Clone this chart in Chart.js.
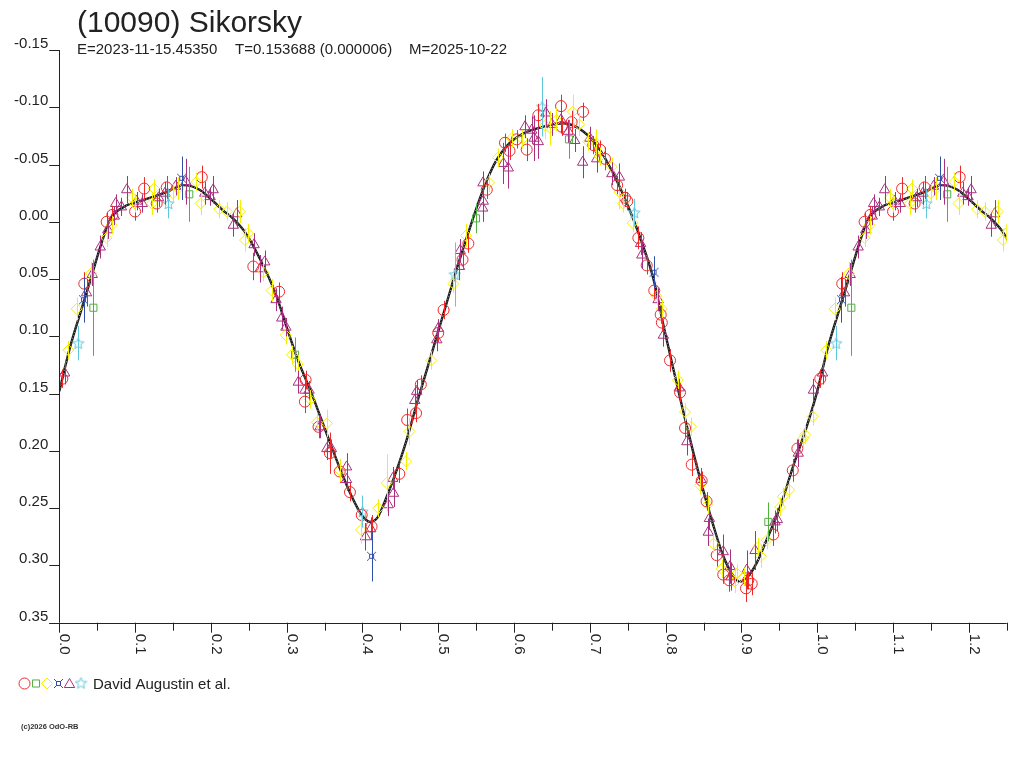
<!DOCTYPE html>
<html>
<head>
<meta charset="utf-8">
<title>(10090) Sikorsky</title>
<script src="https://cdn.jsdelivr.net/npm/chart.js@4.4.1/dist/chart.umd.min.js"></script>
<style>
  html, body { margin: 0; padding: 0; background: #fff; }
  #wrap { width: 1024px; height: 768px; }
</style>
</head>
<body>
<div id="wrap"><canvas id="lightCurve" width="1024" height="768"></canvas></div>
<script>
// observations: [phase, magnitude, error]
const redPoints = [
  [0.004, 0.137, 0.008], [0.033, 0.054, 0.010], [0.0625, 0.000, 0.008], [0.070, -0.006, 0.008],
  [0.100, -0.009, 0.008], [0.112, -0.029, 0.010], [0.1285, -0.016, 0.008], [0.1417, -0.030, 0.010],
  [0.188, -0.039, 0.010], [0.256, 0.039, 0.012], [0.290, 0.061, 0.008], [0.325, 0.138, 0.008],
  [0.324, 0.157, 0.010], [0.342, 0.179, 0.010], [0.357, 0.202, 0.018], [0.370, 0.218, 0.010],
  [0.3835, 0.236, 0.008], [0.399, 0.256, 0.008], [0.412, 0.266, 0.010], [0.4486, 0.220, 0.008],
  [0.459, 0.173, 0.010], [0.4707, 0.167, 0.008], [0.477, 0.142, 0.008], [0.500, 0.097, 0.008],
  [0.507, 0.077, 0.008], [0.532, 0.033, 0.008], [0.5397, 0.019, 0.008], [0.564, -0.028, 0.008],
  [0.588, -0.069, 0.008], [0.594, -0.062, 0.008], [0.6035, -0.072, 0.008], [0.6167, -0.063, 0.010],
  [0.632, -0.093, 0.010], [0.662, -0.101, 0.010], [0.663, -0.083, 0.008], [0.676, -0.087, 0.010],
  [0.691, -0.096, 0.008], [0.7046, -0.067, 0.008], [0.7134, -0.063, 0.008], [0.720, -0.055, 0.010],
  [0.736, -0.032, 0.008], [0.7464, -0.021, 0.008], [0.7494, -0.018, 0.008], [0.764, 0.014, 0.010],
  [0.775, 0.038, 0.008], [0.785, 0.060, 0.008], [0.7935, 0.081, 0.008], [0.795, 0.088, 0.008],
  [0.8058, 0.121, 0.010], [0.819, 0.149, 0.008], [0.8256, 0.180, 0.008], [0.8344, 0.212, 0.010],
  [0.8476, 0.226, 0.008], [0.854, 0.244, 0.008], [0.8674, 0.291, 0.010], [0.876, 0.308, 0.008],
  [0.884, 0.313, 0.010], [0.906, 0.320, 0.012], [0.9136, 0.316, 0.010], [0.909, 0.313, 0.008],
  [0.942, 0.273, 0.010], [0.9677, 0.217, 0.010], [0.9738, 0.198, 0.008]
];

const greenPoints = [
  [0.045, 0.075, 0.042], [0.1715, -0.024, 0.024], [0.311, 0.116, 0.015],
  [0.5498, -0.003, 0.013], [0.6725, -0.072, 0.017], [0.9355, 0.262, 0.017]
];

const yellowPoints = [
  [0.012, 0.112, 0.008], [0.023, 0.076, 0.010], [0.042, 0.045, 0.010], [0.0625, 0.014, 0.008],
  [0.069, 0.003, 0.008], [0.096, -0.021, 0.008], [0.100, -0.016, 0.008], [0.122, -0.016, 0.010],
  [0.125, -0.029, 0.008], [0.150, -0.025, 0.008], [0.157, -0.029, 0.010], [0.181, -0.035, 0.008],
  [0.1865, -0.016, 0.010], [0.211, -0.011, 0.008], [0.221, -0.009, 0.008], [0.238, -0.009, 0.010],
  [0.245, 0.016, 0.010], [0.249, 0.010, 0.008], [0.269, 0.044, 0.008], [0.280, 0.060, 0.010],
  [0.2987, 0.099, 0.008], [0.307, 0.116, 0.008], [0.3146, 0.124, 0.008], [0.331, 0.155, 0.008],
  [0.340, 0.175, 0.008], [0.353, 0.176, 0.012], [0.370, 0.217, 0.010], [0.398, 0.269, 0.012],
  [0.421, 0.250, 0.008], [0.432, 0.228, 0.025], [0.4575, 0.209, 0.008], [0.462, 0.183, 0.012],
  [0.491, 0.121, 0.008], [0.520, 0.054, 0.008], [0.5366, 0.012, 0.010], [0.567, -0.034, 0.008],
  [0.579, -0.056, 0.008], [0.597, -0.073, 0.008], [0.611, -0.072, 0.008], [0.641, -0.084, 0.012],
  [0.6475, -0.082, 0.015], [0.656, -0.089, 0.010], [0.6774, -0.096, 0.015], [0.686, -0.085, 0.010],
  [0.698, -0.070, 0.008], [0.708, -0.069, 0.012], [0.7134, -0.057, 0.008], [0.729, -0.048, 0.008],
  [0.739, -0.026, 0.015], [0.744, -0.016, 0.008], [0.7566, 0.001, 0.008], [0.788, 0.065, 0.008],
  [0.795, 0.076, 0.008], [0.816, 0.138, 0.008], [0.8256, 0.166, 0.008], [0.8335, 0.179, 0.008],
  [0.8454, 0.230, 0.008], [0.8555, 0.247, 0.008], [0.863, 0.281, 0.008], [0.874, 0.303, 0.008],
  [0.8916, 0.314, 0.010], [0.894, 0.307, 0.008], [0.903, 0.310, 0.008], [0.922, 0.284, 0.008],
  [0.9255, 0.292, 0.010], [0.9334, 0.278, 0.008], [0.951, 0.249, 0.008], [0.9545, 0.240, 0.008],
  [0.963, 0.234, 0.008], [0.9817, 0.189, 0.008], [0.984, 0.186, 0.008], [0.994, 0.170, 0.008]
];

const bluePoints = [
  [0.032, 0.068, 0.020], [0.1615, -0.038, 0.019], [0.412, 0.292, 0.022], [0.7847, 0.044, 0.014]
];

const purplePoints = [
  [0.007, 0.132, 0.010], [0.036, 0.062, 0.012], [0.0435, 0.046, 0.010], [0.054, 0.022, 0.010],
  [0.064, 0.007, 0.008], [0.0726, -0.005, 0.008], [0.0744, -0.016, 0.008], [0.082, -0.013, 0.008],
  [0.089, -0.028, 0.012], [0.102, -0.018, 0.008], [0.1095, -0.016, 0.008], [0.131, -0.021, 0.008],
  [0.1395, -0.025, 0.010], [0.1535, -0.031, 0.008], [0.167, -0.035, 0.020], [0.192, -0.025, 0.010],
  [0.199, -0.022, 0.008], [0.203, -0.028, 0.012], [0.2296, 0.003, 0.010], [0.234, -0.007, 0.012],
  [0.257, 0.020, 0.010], [0.265, 0.041, 0.012], [0.271, 0.035, 0.010], [0.286, 0.068, 0.010],
  [0.2935, 0.084, 0.010], [0.299, 0.092, 0.008], [0.3154, 0.140, 0.010], [0.324, 0.147, 0.010],
  [0.3295, 0.147, 0.008], [0.344, 0.179, 0.010], [0.353, 0.198, 0.010], [0.359, 0.198, 0.008],
  [0.379, 0.214, 0.012], [0.379, 0.225, 0.010], [0.404, 0.275, 0.012], [0.411, 0.268, 0.010],
  [0.434, 0.247, 0.010], [0.440, 0.224, 0.010], [0.441, 0.237, 0.012], [0.469, 0.156, 0.012],
  [0.4716, 0.148, 0.010], [0.498, 0.103, 0.010], [0.500, 0.093, 0.008], [0.528, 0.039, 0.012],
  [0.529, 0.025, 0.010], [0.5586, -0.012, 0.012], [0.5594, -0.018, 0.010], [0.559, -0.034, 0.010],
  [0.586, -0.051, 0.018], [0.5924, -0.047, 0.018], [0.6145, -0.083, 0.010], [0.6233, -0.080, 0.012],
  [0.6264, -0.073, 0.020], [0.632, -0.070, 0.015], [0.642, -0.095, 0.012], [0.650, -0.085, 0.010],
  [0.662, -0.089, 0.012], [0.6716, -0.079, 0.010], [0.680, -0.071, 0.010], [0.6905, -0.052, 0.014],
  [0.700, -0.073, 0.010], [0.709, -0.055, 0.012], [0.729, -0.042, 0.010], [0.739, -0.039, 0.012],
  [0.767, 0.019, 0.010], [0.7685, 0.029, 0.012], [0.790, 0.068, 0.010], [0.797, 0.099, 0.010],
  [0.818, 0.145, 0.008], [0.828, 0.192, 0.012], [0.8467, 0.225, 0.010], [0.8577, 0.259, 0.010],
  [0.8563, 0.271, 0.012], [0.876, 0.288, 0.015], [0.885, 0.301, 0.015], [0.886, 0.310, 0.012],
  [0.907, 0.304, 0.017], [0.918, 0.287, 0.017], [0.9443, 0.262, 0.010], [0.9474, 0.260, 0.010],
  [0.975, 0.202, 0.012], [0.995, 0.147, 0.010]
];

const cyanPoints = [
  [0.025, 0.106, 0.015], [0.144, -0.016, 0.013], [0.400, 0.253, 0.014],
  [0.522, 0.046, 0.028], [0.637, -0.1005, 0.026], [0.7587, -0.008, 0.012]
];

// fitted lightcurve, one full rotation
const fitPhase = [0.000, 0.014, 0.028, 0.041, 0.054, 0.067, 0.085, 0.111, 0.138, 0.164, 0.185, 0.203,
  0.216, 0.229, 0.245, 0.263, 0.285, 0.300, 0.315, 0.333, 0.346, 0.359, 0.373, 0.386, 0.399, 0.410,
  0.420, 0.432, 0.445, 0.458, 0.472, 0.485, 0.498, 0.511, 0.524, 0.538, 0.551, 0.564, 0.577, 0.590,
  0.612, 0.639, 0.665, 0.691, 0.713, 0.731, 0.749, 0.766, 0.784, 0.797, 0.810, 0.823, 0.836, 0.849,
  0.862, 0.875, 0.888, 0.897, 0.907, 0.920, 0.933, 0.951, 0.968, 0.986, 1.000];
const fitMag = [0.148, 0.110, 0.079, 0.051, 0.022, -0.002, -0.013, -0.019, -0.025, -0.032, -0.028, -0.018,
  -0.010, -0.003, 0.009, 0.030, 0.062, 0.092, 0.121, 0.150, 0.173, 0.196, 0.220, 0.240, 0.256, 0.262,
  0.258, 0.240, 0.217, 0.191, 0.158, 0.129, 0.100, 0.071, 0.042, 0.013, -0.013, -0.036, -0.054, -0.066,
  -0.077, -0.083, -0.086, -0.079, -0.063, -0.042, -0.016, 0.013, 0.050, 0.090, 0.128, 0.165, 0.200, 0.233,
  0.263, 0.290, 0.308, 0.314, 0.311, 0.298, 0.278, 0.249, 0.214, 0.179, 0.148];

const xMajorTicks = [0.0, 0.1, 0.2, 0.3, 0.4, 0.5, 0.6, 0.7, 0.8, 0.9, 1.0, 1.1, 1.2];
const xMajorLabels = ["0.0", "0.1", "0.2", "0.3", "0.4", "0.5", "0.6", "0.7", "0.8", "0.9", "1.0", "1.1", "1.2"];
const xMinorTicks = [0.05, 0.15, 0.25, 0.35, 0.45, 0.55, 0.65, 0.75, 0.85, 0.95, 1.05, 1.15, 1.25];
const yTicks = [-0.15, -0.10, -0.05, 0.00, 0.05, 0.10, 0.15, 0.20, 0.25, 0.30, 0.35];
const yTickLabels = ["-0.15", "-0.10", "-0.05", "0.00", "0.05", "0.10", "0.15", "0.20", "0.25", "0.30", "0.35"];

const titleText = "(10090) Sikorsky";
const subtitleParts = ["E=2023-11-15.45350", "T=0.153688 (0.000006)", "M=2025-10-22"];
const legendText = "David Augustin et al.";
const copyrightText = "(c)2026 OdO-RB";

const FONT = '"Liberation Sans", Arial, sans-serif';
const RED = "#f02828", GREEN = "#50b040", YELLOW = "#f5f000", BLUE = "#3050a8", PURPLE = "#a8307f", CYAN = "#60c8dc";

// phases 0..0.25 are shown again after 1.0
function phaseData(rows) {
  const out = [];
  rows.forEach(([p, m, e]) => {
    out.push({ x: p, y: m, e: e });
    if (p <= 0.25) out.push({ x: p + 1, y: m, e: e });
  });
  return out;
}

function fitData() {
  const out = fitPhase.map((p, i) => ({ x: p, y: fitMag[i] }));
  fitPhase.forEach((p, i) => { if (p > 0 && p <= 0.27) out.push({ x: p + 1, y: fitMag[i] }); });
  return out;
}

function makeStar(color) {
  const c = document.createElement("canvas");
  c.width = 13; c.height = 13;
  const g = c.getContext("2d");
  g.strokeStyle = color; g.lineWidth = 1;
  g.beginPath();
  for (let k = 0; k < 10; k++) {
    const r = k % 2 ? 2.6 : 6;
    const a = -Math.PI / 2 + k * Math.PI / 5;
    const px = 6.5 + r * Math.cos(a), py = 7 + r * Math.sin(a);
    if (k) g.lineTo(px, py); else g.moveTo(px, py);
  }
  g.closePath();
  g.stroke();
  return c;
}

function makeCurrency(color) {
  const c = document.createElement("canvas");
  c.width = 11; c.height = 11;
  const g = c.getContext("2d");
  g.strokeStyle = color; g.lineWidth = 1;
  g.strokeRect(3.5, 3.5, 4, 4);
  g.beginPath();
  g.moveTo(1, 1); g.lineTo(3.5, 3.5);
  g.moveTo(10, 1); g.lineTo(7.5, 3.5);
  g.moveTo(1, 10); g.lineTo(3.5, 7.5);
  g.moveTo(10, 10); g.lineTo(7.5, 7.5);
  g.stroke();
  return c;
}

const starImg = makeStar(CYAN);
const currencyImg = makeCurrency(BLUE);

function obsSet(label, rows, color, style, radius) {
  return {
    label: label,
    data: phaseData(rows),
    borderColor: color,
    backgroundColor: "transparent",
    pointStyle: style,
    pointRadius: radius,
    pointBorderWidth: 1,
    showLine: false,
    order: 1,
    errorBars: true
  };
}

const errorBars = {
  id: "errorBars",
  afterDatasetsDraw(chart) {
    const { ctx, chartArea, scales: { x, y } } = chart;
    ctx.save();
    ctx.beginPath();
    ctx.rect(chartArea.left, chartArea.top - 10, chartArea.right - chartArea.left, chartArea.bottom - chartArea.top + 10);
    ctx.clip();
    ctx.lineWidth = 1;
    chart.data.datasets.forEach(ds => {
      if (!ds.errorBars) return;
      ctx.strokeStyle = ds.borderColor;
      ctx.beginPath();
      ds.data.forEach(d => {
        const px = Math.round(x.getPixelForValue(d.x)) + 0.5;
        ctx.moveTo(px, y.getPixelForValue(d.y - d.e));
        ctx.lineTo(px, y.getPixelForValue(d.y + d.e));
      });
      ctx.stroke();
    });
    ctx.restore();
  }
};

function legendMarker(ctx, style, color, cx, cy, r) {
  ctx.strokeStyle = color;
  ctx.fillStyle = "rgba(0,0,0,0)";
  ctx.lineWidth = 1;
  Chart.helpers.drawPoint(ctx, { pointStyle: style, radius: r, rotation: 0, borderWidth: 1 }, cx, cy);
}

const frame = {
  id: "frame",
  afterDraw(chart) {
    const { ctx, scales: { x, y } } = chart;
    const left = x.getPixelForValue(0), right = x.getPixelForValue(1.25);
    const top = y.getPixelForValue(-0.15), bottom = y.getPixelForValue(0.35);
    ctx.save();
    ctx.strokeStyle = "#222";
    ctx.lineWidth = 1;
    ctx.beginPath();
    ctx.moveTo(Math.round(left) + 0.5, top);
    ctx.lineTo(Math.round(left) + 0.5, bottom);
    ctx.moveTo(left - 10, Math.round(bottom) + 0.5);
    ctx.lineTo(right, Math.round(bottom) + 0.5);
    yTicks.forEach(v => {
      const py = Math.round(y.getPixelForValue(v)) + 0.5;
      ctx.moveTo(left - 10, py);
      ctx.lineTo(left, py);
    });
    xMajorTicks.forEach(v => {
      const px = Math.round(x.getPixelForValue(v)) + 0.5;
      ctx.moveTo(px, bottom);
      ctx.lineTo(px, bottom + 10);
    });
    xMinorTicks.forEach(v => {
      const px = Math.round(x.getPixelForValue(v)) + 0.5;
      ctx.moveTo(px, bottom);
      ctx.lineTo(px, bottom + 8);
    });
    ctx.stroke();

    ctx.fillStyle = "#222";
    ctx.font = "15px " + FONT;
    ctx.textAlign = "right";
    ctx.textBaseline = "alphabetic";
    yTicks.forEach((v, i) => {
      ctx.fillText(yTickLabels[i], left - 11, y.getPixelForValue(v) - 2);
    });
    ctx.textAlign = "left";
    xMajorTicks.forEach((v, i) => {
      ctx.save();
      ctx.translate(x.getPixelForValue(v) + 1, bottom + 11);
      ctx.rotate(Math.PI / 2);
      ctx.fillText(xMajorLabels[i], 0, 0);
      ctx.restore();
    });

    // header
    ctx.font = "30px " + FONT;
    ctx.fillText(titleText, 77, 32);
    ctx.font = "15px " + FONT;
    ctx.fillText(subtitleParts[0], 77, 54);
    ctx.fillText(subtitleParts[1], 235, 54);
    ctx.fillText(subtitleParts[2], 409, 54);

    // legend
    const ly = 683.5;
    legendMarker(ctx, "circle", RED, 24.5, ly, 5.5);
    legendMarker(ctx, "rect", GREEN, 36, ly, 5);
    legendMarker(ctx, "rectRot", YELLOW, 47, ly, 5.5);
    ctx.drawImage(currencyImg, 58.5 - 5.5, ly - 5.5);
    legendMarker(ctx, "triangle", PURPLE, 69.5, ly + 1, 6);
    ctx.drawImage(starImg, 81 - 6.5, ly - 7);
    ctx.fillStyle = "#222";
    ctx.font = "15px " + FONT;
    ctx.fillText(legendText, 93, 689);

    ctx.font = "bold 7.5px " + FONT;
    ctx.fillStyle = "#333";
    ctx.fillText(copyrightText, 21, 729);
    ctx.restore();
  }
};

new Chart(document.getElementById("lightCurve").getContext("2d"), {
  type: "scatter",
  data: {
    datasets: [
      {
        label: "fit",
        data: fitData(),
        showLine: true,
        borderColor: "#1a1a1a",
        borderWidth: 2.4,
        pointRadius: 0,
        cubicInterpolationMode: "monotone",
        order: 3
      },
      {
        label: "fit-dots",
        data: fitData(),
        showLine: true,
        borderColor: "rgba(255,255,255,0.7)",
        borderWidth: 0.8,
        borderDash: [1, 2],
        pointRadius: 0,
        cubicInterpolationMode: "monotone",
        order: 2
      },
      obsSet("red", redPoints, RED, "circle", 5.5),
      obsSet("green", greenPoints, GREEN, "rect", 5),
      obsSet("yellow", yellowPoints, YELLOW, "rectRot", 5.5),
      obsSet("blue", bluePoints, BLUE, currencyImg, 5),
      obsSet("purple", purplePoints, PURPLE, "triangle", 6),
      obsSet("cyan", cyanPoints, CYAN, starImg, 6)
    ]
  },
  options: {
    responsive: false,
    devicePixelRatio: 1,
    animation: false,
    events: [],
    layout: { padding: { left: 59.3, right: 17.3, top: 50, bottom: 145.3 } },
    scales: {
      x: { type: "linear", min: 0, max: 1.25, display: false },
      y: { type: "linear", min: -0.15, max: 0.35, reverse: true, display: false }
    },
    plugins: {
      legend: { display: false },
      tooltip: { enabled: false },
      title: { display: false }
    }
  },
  plugins: [errorBars, frame]
});
</script>
</body>
</html>
